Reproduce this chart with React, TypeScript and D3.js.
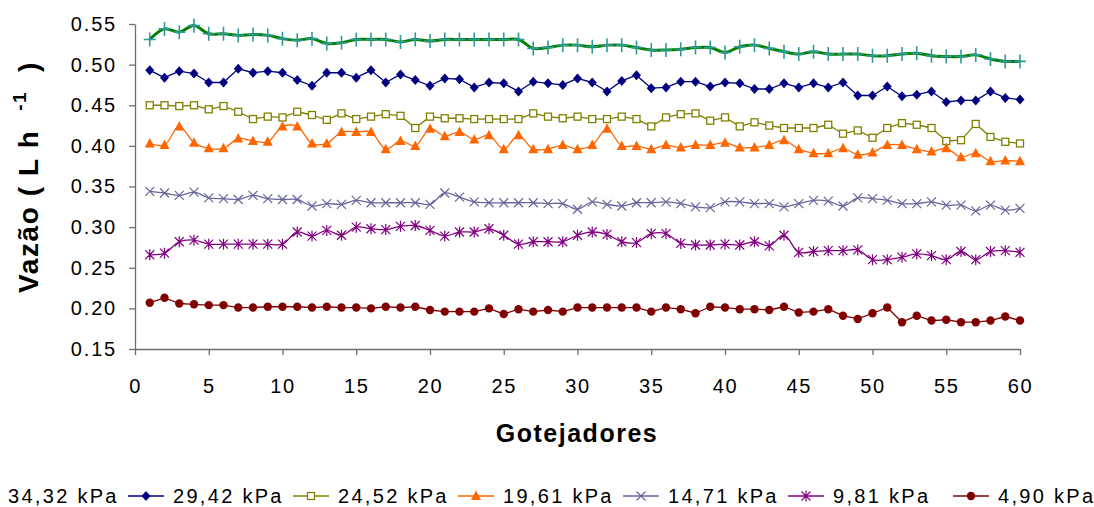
import { useEffect, useRef } from 'react'
import * as d3 from 'd3'

// Vazão por gotejador (L/h) para cada pressão
const GOTEJADORES = d3.range(1, 61)

const P_3432 = [
  0.531, 0.544, 0.540, 0.548, 0.538, 0.538, 0.536, 0.537, 0.536, 0.532,
  0.530, 0.532, 0.526, 0.527, 0.531, 0.531, 0.531, 0.528, 0.531, 0.529,
  0.531, 0.531, 0.531, 0.531, 0.531, 0.531, 0.520, 0.521, 0.524, 0.524,
  0.522, 0.524, 0.524, 0.521, 0.518, 0.518, 0.519, 0.521, 0.521, 0.515,
  0.522, 0.524, 0.520, 0.516, 0.513, 0.516, 0.513, 0.513, 0.513, 0.511,
  0.511, 0.513, 0.514, 0.511, 0.510, 0.510, 0.512, 0.507, 0.504, 0.504,
]
const P_2942 = [
  0.493, 0.484, 0.492, 0.489, 0.478, 0.478, 0.495, 0.490, 0.492, 0.490,
  0.481, 0.474, 0.490, 0.490, 0.484, 0.493, 0.478, 0.488, 0.481, 0.474,
  0.483, 0.482, 0.472, 0.478, 0.477, 0.467, 0.479, 0.477, 0.475, 0.483,
  0.478, 0.467, 0.480, 0.487, 0.471, 0.472, 0.479, 0.479, 0.473, 0.478,
  0.477, 0.470, 0.470, 0.477, 0.472, 0.477, 0.472, 0.478, 0.462, 0.462,
  0.473, 0.461, 0.463, 0.467, 0.454, 0.456, 0.456, 0.467, 0.459, 0.457,
]
const P_2452 = [
  0.450, 0.450, 0.449, 0.450, 0.445, 0.449, 0.442, 0.433, 0.436, 0.435,
  0.442, 0.438, 0.432, 0.440, 0.433, 0.436, 0.439, 0.437, 0.422, 0.436,
  0.434, 0.434, 0.433, 0.433, 0.433, 0.433, 0.440, 0.436, 0.434, 0.436,
  0.433, 0.433, 0.436, 0.433, 0.424, 0.435, 0.439, 0.440, 0.431, 0.435,
  0.424, 0.429, 0.425, 0.422, 0.422, 0.422, 0.426, 0.415, 0.419, 0.410,
  0.422, 0.428, 0.426, 0.422, 0.406, 0.407, 0.427, 0.411, 0.405, 0.403,
]
const P_1961 = [
  0.403, 0.401, 0.424, 0.404, 0.397, 0.397, 0.409, 0.406, 0.405, 0.424,
  0.424, 0.403, 0.403, 0.417, 0.417, 0.417, 0.396, 0.406, 0.400, 0.421,
  0.412, 0.417, 0.408, 0.413, 0.396, 0.413, 0.396, 0.396, 0.401, 0.396,
  0.401, 0.421, 0.400, 0.400, 0.396, 0.401, 0.398, 0.401, 0.401, 0.404,
  0.398, 0.398, 0.401, 0.407, 0.396, 0.391, 0.391, 0.397, 0.389, 0.392,
  0.401, 0.401, 0.396, 0.393, 0.397, 0.386, 0.391, 0.381, 0.382, 0.381,
]
const P_1471 = [
  0.344, 0.342, 0.339, 0.343, 0.336, 0.335, 0.334, 0.339, 0.335, 0.334,
  0.334, 0.326, 0.329, 0.328, 0.333, 0.330, 0.330, 0.330, 0.330, 0.328,
  0.342, 0.337, 0.331, 0.330, 0.330, 0.330, 0.330, 0.329, 0.329, 0.322,
  0.331, 0.328, 0.326, 0.330, 0.330, 0.331, 0.329, 0.325, 0.324, 0.331,
  0.331, 0.329, 0.329, 0.325, 0.329, 0.333, 0.332, 0.326, 0.336, 0.335,
  0.333, 0.329, 0.329, 0.331, 0.327, 0.327, 0.320, 0.327, 0.321, 0.323,
]
const P_981 = [
  0.266, 0.268, 0.282, 0.284, 0.279, 0.279, 0.279, 0.279, 0.279, 0.279,
  0.294, 0.289, 0.296, 0.290, 0.300, 0.298, 0.297, 0.301, 0.302, 0.296,
  0.289, 0.294, 0.294, 0.298, 0.290, 0.279, 0.282, 0.282, 0.282, 0.290,
  0.294, 0.291, 0.282, 0.281, 0.292, 0.292, 0.280, 0.278, 0.278, 0.279,
  0.278, 0.282, 0.277, 0.290, 0.269, 0.270, 0.271, 0.271, 0.272, 0.260,
  0.260, 0.263, 0.267, 0.265, 0.260, 0.270, 0.260, 0.270, 0.271, 0.269,
]
const P_490 = [
  0.207, 0.213, 0.206, 0.205, 0.204, 0.204, 0.201, 0.201, 0.202, 0.202,
  0.202, 0.201, 0.202, 0.201, 0.201, 0.200, 0.202, 0.201, 0.202, 0.198,
  0.196, 0.196, 0.196, 0.200, 0.193, 0.199, 0.196, 0.198, 0.196, 0.201,
  0.201, 0.201, 0.201, 0.201, 0.196, 0.201, 0.199, 0.194, 0.202, 0.201,
  0.199, 0.199, 0.198, 0.202, 0.195, 0.196, 0.199, 0.191, 0.187, 0.194,
  0.201, 0.183, 0.191, 0.185, 0.186, 0.183, 0.183, 0.185, 0.190, 0.185,
]

const LABELS = ['34,32 kPa', '29,42 kPa', '24,52 kPa', '19,61 kPa', '14,71 kPa', '9,81 kPa', '4,90 kPa']
const Y_TICKS = [0.15, 0.2, 0.25, 0.3, 0.35, 0.4, 0.45, 0.5, 0.55]
const X_TICKS = [0, 5, 10, 15, 20, 25, 30, 35, 40, 45, 50, 55, 60]

type Marker = 'plus' | 'diamond' | 'square' | 'triangle' | 'x' | 'asterisk' | 'circle'
interface Series { label: string; values: number[]; color: string; markColor: string; marker: Marker; width: number; smooth: boolean }

const SERIES: Series[] = [
  { label: LABELS[0], values: P_3432, color: '#008000', markColor: '#2f9a9a', marker: 'plus', width: 3, smooth: true },
  { label: LABELS[1], values: P_2942, color: '#000080', markColor: '#000080', marker: 'diamond', width: 1.3, smooth: false },
  { label: LABELS[2], values: P_2452, color: '#808000', markColor: '#808000', marker: 'square', width: 1.3, smooth: false },
  { label: LABELS[3], values: P_1961, color: '#ff6600', markColor: '#ff6600', marker: 'triangle', width: 1.3, smooth: true },
  { label: LABELS[4], values: P_1471, color: '#666699', markColor: '#666699', marker: 'x', width: 1.3, smooth: true },
  { label: LABELS[5], values: P_981, color: '#800080', markColor: '#800080', marker: 'asterisk', width: 1.3, smooth: true },
  { label: LABELS[6], values: P_490, color: '#800000', markColor: '#800000', marker: 'circle', width: 1.3, smooth: false },
]

const FONT = "'Liberation Sans', Arial, sans-serif"
const AXIS = '#6e6e6e'

function drawMarker(g: d3.Selection<SVGGElement, unknown, null, undefined>, m: Marker, color: string) {
  if (m === 'plus') {
    g.append('path').attr('d', 'M-6,0H6M0,-7V7').attr('stroke', color).attr('stroke-width', 1.6).attr('fill', 'none')
  } else if (m === 'diamond') {
    g.append('path').attr('d', 'M0,-5L4.5,0L0,5L-4.5,0Z').attr('fill', color)
  } else if (m === 'square') {
    g.append('rect').attr('x', -3.5).attr('y', -3.5).attr('width', 7).attr('height', 7)
      .attr('fill', '#fff').attr('stroke', color).attr('stroke-width', 1.3)
  } else if (m === 'triangle') {
    g.append('path').attr('d', 'M0,-5.5L5,4L-5,4Z').attr('fill', color)
  } else if (m === 'x') {
    g.append('path').attr('d', 'M-4.5,-4.5L4.5,4.5M-4.5,4.5L4.5,-4.5').attr('stroke', color).attr('stroke-width', 1.2).attr('fill', 'none')
  } else if (m === 'asterisk') {
    g.append('path').attr('d', 'M-4.5,-4.5L4.5,4.5M-4.5,4.5L4.5,-4.5M0,-5.5V5.5').attr('stroke', color).attr('stroke-width', 1.2).attr('fill', 'none')
  } else {
    g.append('circle').attr('r', 4.2).attr('fill', color)
  }
}

export default function App() {
  const ref = useRef<SVGSVGElement>(null)

  useEffect(() => {
    if (!ref.current) return
    const svg = d3.select(ref.current)
    svg.selectAll('*').remove()

    const x = d3.scaleLinear().domain([0, 60]).range([135, 1020])
    const y = d3.scaleLinear().domain([0.15, 0.55]).range([349, 24])

    // axes
    const yAxis = d3.axisLeft(y).tickValues(Y_TICKS).tickFormat(d3.format('.2f')).tickSize(6).tickSizeOuter(0).tickPadding(12)
    svg.append('g')
      .attr('transform', `translate(${x(0)},0)`)
      .call(yAxis)
      .call((g) => g.select('.domain').attr('stroke', AXIS).attr('stroke-width', 1.3))
      .call((g) => g.selectAll('.tick line').attr('stroke', AXIS).attr('stroke-width', 1.3))
      .call((g) => g.selectAll('.tick text').attr('fill', '#000').attr('font-size', 20).attr('font-family', FONT).style('letter-spacing', '1.8px'))

    const xAxis = d3.axisBottom(x).tickValues(X_TICKS).tickFormat(d3.format('d')).tickSize(6).tickSizeOuter(0).tickPadding(24)
    svg.append('g')
      .attr('transform', `translate(0,${y(0.15)})`)
      .call(xAxis)
      .call((g) => g.select('.domain').attr('stroke', AXIS).attr('stroke-width', 1.3))
      .call((g) => g.selectAll('.tick line').attr('stroke', AXIS).attr('stroke-width', 1.3))
      .call((g) => g.selectAll('.tick text').attr('fill', '#000').attr('font-size', 20).attr('font-family', FONT).style('letter-spacing', '1.6px'))

    // series
    SERIES.forEach((s) => {
      const line = d3.line<number>()
        .x((_, i) => x(GOTEJADORES[i]))
        .y((d) => y(d))
        .curve(s.smooth ? d3.curveCatmullRom.alpha(0.5) : d3.curveLinear)
      svg.append('path')
        .datum(s.values)
        .attr('d', line)
        .attr('fill', 'none')
        .attr('stroke', s.color)
        .attr('stroke-width', s.width)
        .attr('stroke-linejoin', 'round')
      s.values.forEach((v, i) => {
        const mg = svg.append('g').attr('transform', `translate(${x(GOTEJADORES[i])},${y(v)})`)
        drawMarker(mg, s.marker, s.markColor)
      })
    })

    // axis titles
    svg.append('text')
      .attr('x', 577).attr('y', 442)
      .attr('text-anchor', 'middle')
      .attr('font-family', FONT).attr('font-weight', 'bold').attr('font-size', 25)
      .style('letter-spacing', '1.5px')
      .text('Gotejadores')

    const yt = svg.append('text')
      .attr('transform', 'translate(38,177) rotate(-90)')
      .attr('text-anchor', 'middle')
      .attr('font-family', FONT).attr('font-weight', 'bold').attr('font-size', 28)
      .style('letter-spacing', '1.6px')
      .style('white-space', 'pre')
    yt.append('tspan').text('Vazão ( L h  ')
    yt.append('tspan').attr('font-size', 19).attr('dy', -12).text('-1')
    yt.append('tspan').attr('dy', 12).text('  )')

    // legend
    const lx = d3.scaleLinear().domain([0, 1]).range([-37, 128])
    SERIES.forEach((s, i) => {
      const lg = svg.append('g').attr('transform', `translate(${lx(i)},496)`)
      lg.append('line').attr('x1', 0).attr('x2', 36).attr('stroke', s.color).attr('stroke-width', s.width === 3 ? 3 : 1.5)
      drawMarker(lg.append('g').attr('transform', 'translate(18,0)'), s.marker, s.markColor)
      lg.append('text')
        .attr('x', 45).attr('y', 7)
        .attr('font-family', FONT).attr('font-size', 20)
        .style('letter-spacing', '2.3px')
        .text(s.label)
    })
  }, [])

  return (
    <svg
      ref={ref}
      width={1094}
      height={507}
      style={{ position: 'absolute', left: 0, top: 0, background: '#fff' }}
    />
  )
}
